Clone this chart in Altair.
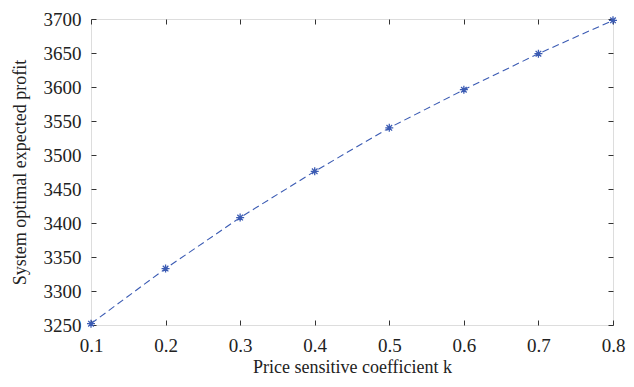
import altair as alt
import pandas as pd

k_values = [0.1, 0.2, 0.3, 0.4, 0.5, 0.6, 0.7, 0.8]
profit_values = [3252, 3333, 3408, 3476, 3540, 3596, 3649, 3698]
x_ticks = [0.1, 0.2, 0.3, 0.4, 0.5, 0.6, 0.7, 0.8]
y_ticks = [3250, 3300, 3350, 3400, 3450, 3500, 3550, 3600, 3650, 3700]

df = pd.DataFrame({"k": k_values, "profit": profit_values})

FONT = "Liberation Serif"
BLUE = "#3b5bb3"
FRAME = "#333333"
W, H = 522, 306

xs = alt.Scale(domain=[0.1, 0.8], nice=False, zero=False)
ys = alt.Scale(domain=[3250, 3700], nice=False, zero=False)

x_axis = alt.Axis(values=x_ticks, tickCount=len(x_ticks), format=".1f", orient="bottom",
                  ticks=False, tickSize=0,
                  domain=False, grid=True, gridColor=FRAME, gridWidth=1, gridDash=[5, H - 10],
                  labelFlush=False, labelOverlap=False, labelPadding=11, labelFontSize=19,
                  labelFont=FONT, labelColor="#222", title="Price sensitive coefficient k",
                  titleFont=FONT, titleFontSize=18, titleFontWeight="normal",
                  titleColor="#222", titlePadding=3)
y_axis = alt.Axis(values=y_ticks, tickCount=len(y_ticks), format="d", orient="left",
                  ticks=False, tickSize=0,
                  domain=False, grid=True, gridColor=FRAME, gridWidth=1, gridDash=[5, W - 10],
                  labelFlush=False, labelOverlap=False, labelPadding=10, labelFontSize=19,
                  labelFont=FONT, labelColor="#222", title="System optimal expected profit",
                  titleFont=FONT, titleFontSize=18, titleFontWeight="normal",
                  titleColor="#222", titlePadding=14)

line = alt.Chart(df).mark_line(color=BLUE, strokeDash=[7, 4], strokeWidth=1.1).encode(
    x=alt.X("k:Q", scale=xs, axis=x_axis),
    y=alt.Y("profit:Q", scale=ys, axis=y_axis),
)

star = "M-1,0L1,0M0,-1L0,1M-0.7,-0.7L0.7,0.7M-0.7,0.7L0.7,-0.7"
pts = alt.Chart(df).mark_point(shape=star, size=64, color=BLUE, filled=False, strokeWidth=1.3,
                               opacity=1).encode(
    x=alt.X("k:Q", scale=xs),
    y=alt.Y("profit:Q", scale=ys),
)

chart = alt.layer(line, pts).properties(
    width=W, height=H,
    autosize=alt.AutoSizeParams(type="none"),
    padding={"left": 83, "top": 11, "right": 13, "bottom": 54},
).configure_view(stroke=FRAME, strokeWidth=1.2).configure(background="white")

chart.save("out.html", embed_options={"renderer": "svg", "actions": False})
